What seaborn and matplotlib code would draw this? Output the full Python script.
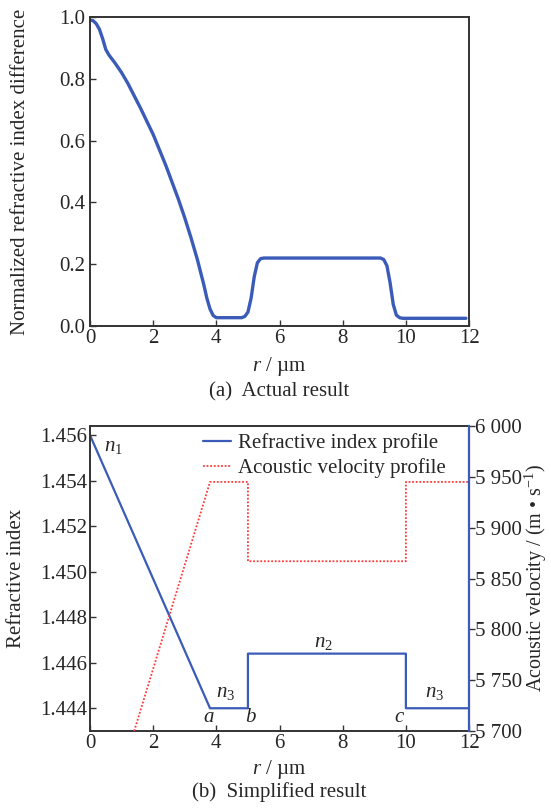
import numpy as np
import pandas as pd
import seaborn as sns
import matplotlib
matplotlib.use("Agg")
import matplotlib.pyplot as plt
from matplotlib.lines import Line2D

sns.set_style("ticks")
plt.rcParams["font.family"] = ["Liberation Serif", "DejaVu Serif"]
plt.rcParams["mathtext.fontset"] = "custom"
plt.rcParams["mathtext.rm"] = "Liberation Serif"
plt.rcParams["mathtext.it"] = "Liberation Serif:italic"
FS = 15
plt.rcParams["font.size"] = FS

# (a) measured normalized refractive index difference
r_actual = [0.0, 0.1, 0.2, 0.3, 0.4, 0.5, 0.6, 0.8, 1.0, 1.2, 1.6, 2.0, 2.4,
            2.8, 3.0, 3.2, 3.4, 3.6, 3.7, 3.8, 3.9, 4.0, 4.8, 4.9, 5.0, 5.1,
            5.2, 5.3, 5.4, 5.5, 6.0, 9.2, 9.3, 9.4, 9.5, 9.6, 9.7, 9.8, 9.9,
            10.0, 11.9]
dn_actual = [0.99, 0.988, 0.978, 0.96, 0.93, 0.895, 0.877, 0.85, 0.82, 0.785,
             0.705, 0.62, 0.52, 0.41, 0.35, 0.285, 0.215, 0.135, 0.09, 0.055,
             0.034, 0.027, 0.027, 0.031, 0.045, 0.09, 0.16, 0.205, 0.218,
             0.22, 0.22, 0.22, 0.215, 0.195, 0.14, 0.07, 0.035, 0.027,
             0.025, 0.025, 0.025]

# (b) simplified profiles
r_index = [0.0, 3.8, 5.0, 5.0, 10.0, 10.0, 12.0]
n_index = [1.456, 1.444, 1.444, 1.4464, 1.4464, 1.444, 1.444]
r_velocity = [1.4, 3.8, 5.0, 5.0, 10.0, 10.0, 12.0]
v_velocity = [5700, 5945, 5945, 5867, 5867, 5945, 5945]

x_ticks = [0, 2, 4, 6, 8, 10, 12]
n_ticks = [1.444, 1.446, 1.448, 1.450, 1.452, 1.454, 1.456]
v_ticks = [5700, 5750, 5800, 5850, 5900, 5950, 6000]
v_tick_labels = ["5 700", "5 750", "5 800", "5 850", "5 900", "5 950", "6 000"]

blue = "#3a5bb8"
red = "#ff3b3b"
spine_col = "#333333"

fig = plt.figure(figsize=(5.51, 8.09), dpi=100)
ax1 = fig.add_axes([0.1633, 0.597, 0.688, 0.382])
ax2 = fig.add_axes([0.1633, 0.0964, 0.688, 0.377])

def style_axis(ax):
    for s in ax.spines.values():
        s.set_visible(True)
        s.set_color(spine_col)
        s.set_linewidth(1.4)
    ax.tick_params(direction="in", length=4, width=1.0, color=spine_col,
                   labelsize=FS, pad=2, top=False, right=False)

# ---- (a) Actual result ----
df_a = pd.DataFrame({"r": r_actual, "dn": dn_actual})
sns.lineplot(data=df_a, x="r", y="dn", ax=ax1, color=blue, lw=2.4,
             sort=False, estimator=None)
ax1.set_xlim(0, 12)
ax1.set_ylim(0, 1.0)
ax1.set_xticks(x_ticks)
ax1.set_yticks([0.0, 0.2, 0.4, 0.6, 0.8, 1.0])
ax1.set_yticklabels(["0.0", "0.2", "0.4", "0.6", "0.8", "1.0"])
style_axis(ax1)
ax1.tick_params(axis="y", pad=3.5)
ax1.set_xlabel(r"$r$ / µm", fontsize=FS, labelpad=5)
ax1.set_ylabel("Normalized refractive index difference", fontsize=FS)
ax1.yaxis.set_label_coords(-0.158, 0.5)
ax1.text(0.5, -0.212, "(a)  Actual result", transform=ax1.transAxes,
         ha="center", va="center", fontsize=FS)

# ---- (b) Simplified result ----
df_n = pd.DataFrame({"r": r_index, "n": n_index})
sns.lineplot(data=df_n, x="r", y="n", ax=ax2, color=blue, lw=1.6,
             sort=False, estimator=None)
ax2.set_xlim(0, 12)
ax2.set_ylim(1.443, 1.4564)
ax2.set_xticks(x_ticks)
ax2.set_yticks(n_ticks)
ax2.set_yticklabels([f"{t:.3f}" for t in n_ticks])
style_axis(ax2)
ax2.set_xlabel(r"$r$ / µm", fontsize=FS, labelpad=4)
ax2.set_ylabel("Refractive index", fontsize=FS)
ax2.yaxis.set_label_coords(-0.169, 0.5)

ax3 = ax2.twinx()
df_v = pd.DataFrame({"r": r_velocity, "v": v_velocity})
sns.lineplot(data=df_v, x="r", y="v", ax=ax3, color=red, lw=1.3,
             linestyle=(0, (1, 1)), sort=False, estimator=None)
ax3.set_ylim(5700, 6000)
ax3.set_yticks(v_ticks)
ax3.set_yticklabels(v_tick_labels)
for s in ax3.spines.values():
    s.set_visible(False)
ax3.spines["right"].set_visible(True)
ax3.spines["right"].set_color(blue)
ax3.spines["right"].set_linewidth(1.6)
ax3.tick_params(axis="y", direction="out", length=4, width=1.0,
                color=spine_col, labelsize=FS, pad=0.5)
ax3.set_ylabel(r"Acoustic velocity / (m • s$^{-1}$)", fontsize=14.5,
               rotation=90)
ax3.yaxis.set_label_coords(1.143, 0.5)
ax2.spines["right"].set_visible(False)

# region labels
ax2.text(0.45, 1.4555, r"$n_1$", fontsize=FS, ha="left", va="center")
ax2.text(4.3, 1.4447, r"$n_3$", fontsize=FS, ha="center", va="center")
ax2.text(7.4, 1.4469, r"$n_2$", fontsize=FS, ha="center", va="center")
ax2.text(10.9, 1.4447, r"$n_3$", fontsize=FS, ha="center", va="center")
ax2.text(3.75, 1.4436, r"$a$", fontsize=FS, ha="center", va="center")
ax2.text(5.1, 1.4436, r"$b$", fontsize=FS, ha="center", va="center")
ax2.text(9.8, 1.4436, r"$c$", fontsize=FS, ha="center", va="center")

handles = [Line2D([], [], color=blue, lw=1.6),
           Line2D([], [], color=red, lw=1.3, linestyle=(0, (1, 1)))]
ax2.legend(handles, ["Refractive index profile", "Acoustic velocity profile"],
           loc="upper right", bbox_to_anchor=(0.958, 1.0), frameon=False,
           fontsize=FS, handlelength=1.35, handletextpad=0.35,
           labelspacing=0.25, borderaxespad=0.15, borderpad=0.2)

ax2.text(0.5, -0.2, "(b)  Simplified result", transform=ax2.transAxes,
         ha="center", va="center", fontsize=FS)

fig.savefig("out.png", dpi=100)
